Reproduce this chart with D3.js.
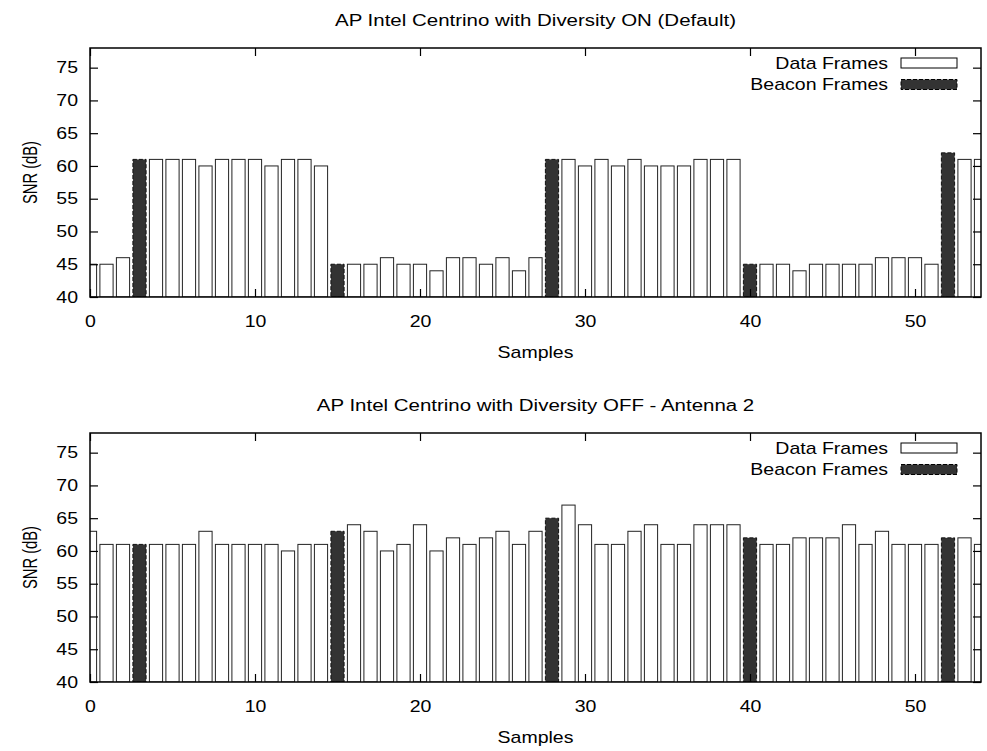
<!DOCTYPE html>
<html>
<head>
  <meta charset="utf-8">
  <title>SNR samples</title>
  <style>
    body { margin: 0; background: #fff; }
    text { font-family: "Liberation Sans", Arial, sans-serif; fill: #000; }
  </style>
</head>
<body>
  <svg width="987" height="751" class="chart"></svg>

  <script src="https://d3js.org/d3.v7.min.js"></script>
  <script type="text/javascript">

  // SNR per sample (index = sample number)
  var snrDiversityOn = [45,45,46,61,61,61,61,60,61,61, 61,60,61,61,60,45,45,45,46,45,
                        45,44,46,46,45,46,44,46,61,61, 60,61,60,61,60,60,60,61,61,61,
                        45,45,45,44,45,45,45,45,46,46, 46,45,62,61,61];
  var snrDiversityOff = [63,61,61,61,61,61,61,63,61,61, 61,61,60,61,61,63,64,63,60,61,
                         64,60,62,61,62,63,61,63,65,67, 64,61,61,63,64,61,61,64,64,64,
                         62,61,61,62,62,62,64,61,63,61, 61,61,62,62,61];
  // samples that are beacon frames, the rest are data frames
  var beaconSamples = [3, 15, 28, 40, 52];

  var xTicks = [0, 10, 20, 30, 40, 50];
  var yTicks = [40, 45, 50, 55, 60, 65, 70, 75];
  var seriesNames = ["Data Frames", "Beacon Frames"];

  var panels = [
    { title: "AP Intel Centrino with Diversity ON (Default)", values: snrDiversityOn, top: 48 },
    { title: "AP Intel Centrino with Diversity OFF - Antenna 2", values: snrDiversityOff, top: 433 }
  ];

  var svg = d3.select(".chart");
  var left = 90, right = 981, plotH = 249;
  var stretch = 1.22;   // gnuplot text comes out wider than Arial
  var fontSize = 16;

  function label(g, x, y, str, anchor, rot, sx, sy) {
    var t = g.append("g")
      .attr("transform", "translate(" + x + "," + y + ")" + (rot ? " rotate(" + rot + ")" : "") +
        " scale(" + (sx || stretch) + "," + (sy || 1) + ")");
    t.append("text")
      .attr("text-anchor", anchor || "middle")
      .style("font-size", fontSize + "px")
      .text(str);
  }

  var x = d3.scaleLinear().domain([0, 54]).range([left, right]);
  var barW = x(0.8) - x(0);

  panels.forEach(function(p, pi) {
    var top = p.top, bottom = top + plotH;
    var y = d3.scaleLinear().domain([40, 78]).range([bottom, top]);
    var g = svg.append("g");

    var clipId = "clip" + pi;
    g.append("clipPath").attr("id", clipId)
      .append("rect").attr("x", left).attr("y", top).attr("width", right - left).attr("height", plotH);

    var rows = p.values.map(function(v, i) {
      return { sample: i, snr: v, beacon: beaconSamples.indexOf(i) >= 0 };
    });

    g.append("g").attr("clip-path", "url(#" + clipId + ")")
      .selectAll("rect")
      .data(rows)
      .enter().append("rect")
      .attr("x", function(d) { return x(d.sample) - barW / 2; })
      .attr("y", function(d) { return y(d.snr); })
      .attr("width", barW)
      .attr("height", function(d) { return y(40) - y(d.snr); })
      .style("fill", function(d) { return d.beacon ? "#333" : "#fff"; })
      .style("stroke", function(d) { return d.beacon ? "#111" : "#222"; })
      .style("stroke-width", 1)
      .style("stroke-dasharray", function(d) { return d.beacon ? "4,2" : null; });

    // axes, ticks pointing inwards on all four sides
    var xb = g.append("g").attr("transform", "translate(0," + bottom + ")")
      .call(d3.axisBottom(x).tickValues(xTicks).tickSizeInner(-8).tickSizeOuter(0).tickPadding(19));
    var xt = g.append("g").attr("transform", "translate(0," + top + ")")
      .call(d3.axisTop(x).tickValues(xTicks).tickSizeInner(-8).tickSizeOuter(0).tickFormat(""));
    var yl = g.append("g").attr("transform", "translate(" + left + ",0)")
      .call(d3.axisLeft(y).tickValues(yTicks).tickSizeInner(-8).tickSizeOuter(0).tickPadding(12));
    var yr = g.append("g").attr("transform", "translate(" + right + ",0)")
      .call(d3.axisRight(y).tickValues(yTicks).tickSizeInner(-8).tickSizeOuter(0).tickFormat(""));

    [xb, xt, yl, yr].forEach(function(a) {
      a.select(".domain").remove();
      a.selectAll("line").style("stroke", "#000").style("stroke-width", 1.2);
      a.selectAll("text")
        .style("font-size", fontSize + "px")
        .style("font-family", "Liberation Sans, Arial, sans-serif")
        .attr("fill", "#000");
    });
    xb.selectAll("text").attr("transform", "scale(" + stretch + ",1)");
    yl.selectAll("text")
      .attr("x", -12 / stretch)
      .attr("transform", "scale(" + stretch + ",1)");

    g.append("rect")
      .attr("x", left).attr("y", top)
      .attr("width", right - left).attr("height", plotH)
      .style("fill", "none").style("stroke", "#000").style("stroke-width", 1.5);

    // legend
    seriesNames.forEach(function(name, k) {
      var ly = top + 15 + k * 21.5;
      label(g, 888, ly + 5.5, name, "end");
      g.append("rect")
        .attr("x", 901).attr("y", ly - 5)
        .attr("width", 56).attr("height", 10)
        .style("fill", k ? "#333" : "#fff")
        .style("stroke", "#000").style("stroke-width", 1)
        .style("stroke-dasharray", k ? "4,2" : null);
    });

    label(g, (left + right) / 2, top - 22, p.title, "middle", 0, 1.28);
    label(g, (left + right) / 2, bottom + 61, "Samples", "middle");
    label(g, 37, (top + bottom) / 2, "SNR (dB)", "middle", -90, 0.92, 1.3);
  });

  </script>
</body>
</html>
